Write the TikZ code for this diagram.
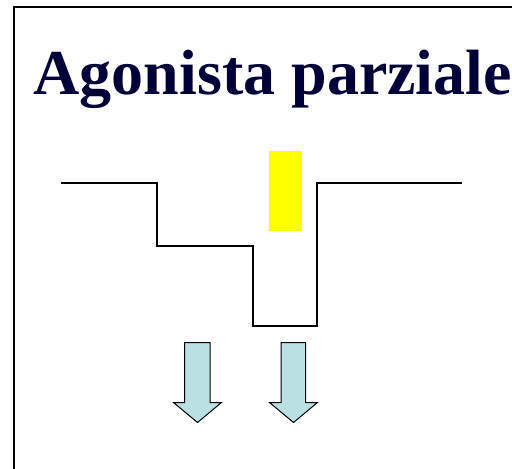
\documentclass[tikz,border=0pt]{standalone}
\usepackage{fontspec}
\setmainfont{Liberation Serif}
\definecolor{titlenavy}{RGB}{0,0,56}
\definecolor{arrowfill}{RGB}{187,224,227}
\definecolor{ligand}{RGB}{255,255,0}
\begin{document}
\begin{tikzpicture}[x=1pt,y=-1pt,
  frameline/.style={line width=2pt,black},
  profile/.style={line width=1.6pt,black,line join=miter},
  blockarrow/.style={draw=black,line width=1pt,fill=arrowfill,line join=miter},
  titletext/.style={font=\bfseries\fontsize{64}{70}\selectfont,text=titlenavy,inner sep=0pt,anchor=base west}]
\useasboundingbox (0,0) rectangle (512,469);
% slide frame
\coordinate (fbl) at (13.5,470);
\coordinate (ftl) at (13.5,6.5);
\coordinate (ftr) at (513,6.5);
\draw[frameline] (fbl) -- (ftl) -- (ftr);
% title
\node[titletext] (title) at (33.5,94) {Agonista parziale};
% receptor pocket profile
\coordinate (p1) at (61,183);
\coordinate (p2) at (157,183);
\coordinate (p3) at (157,246);
\coordinate (p4) at (253,246);
\coordinate (p5) at (253,326);
\coordinate (p6) at (317,326);
\coordinate (p7) at (317,183);
\coordinate (p8) at (462,183);
\draw[profile] (p1) -- (p2) -- (p3) -- (p4) -- (p5) -- (p6) -- (p7) -- (p8);
% partial agonist block
\fill[ligand] (269,151) rectangle (302,231);
% block arrows
\draw[blockarrow] (184.5,342.5) -- (210,342.5) -- (210,402.5) -- (221.5,402.5)
  -- (197.5,422.5) -- (173.5,402.5) -- (184.5,402.5) -- cycle;
\draw[blockarrow] (281,342.5) -- (305.5,342.5) -- (305.5,402.5) -- (317.5,402.5)
  -- (293.5,422.5) -- (269.5,402.5) -- (281,402.5) -- cycle;
\end{tikzpicture}
\end{document}
